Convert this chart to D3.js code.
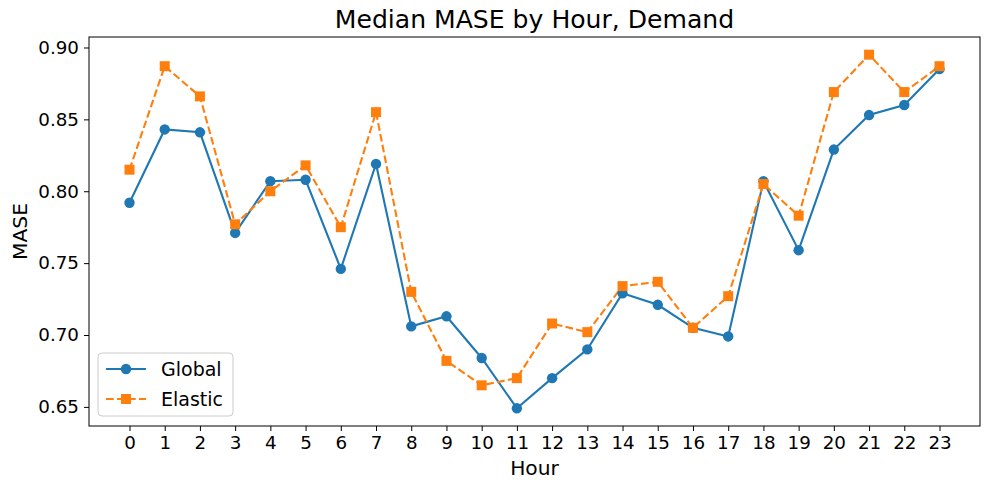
<!DOCTYPE html>
<html>
<head>
<meta charset="utf-8">
<script src="https://cdn.jsdelivr.net/npm/d3@7"></script>
<style>
  html, body { margin: 0; padding: 0; background: #fff; }
  text { font-family: "DejaVu Sans", sans-serif; fill: #000; }
</style>
</head>
<body>
<svg id="chart" width="989" height="490"></svg>
<script>
const hours = [0,1,2,3,4,5,6,7,8,9,10,11,12,13,14,15,16,17,18,19,20,21,22,23];
const globalValues = [0.792,0.843,0.841,0.771,0.807,0.808,0.746,0.819,0.706,0.713,0.684,0.649,0.670,0.690,0.729,0.721,0.705,0.699,0.807,0.759,0.829,0.853,0.860,0.885];
const elasticValues = [0.815,0.887,0.866,0.777,0.800,0.818,0.775,0.855,0.730,0.682,0.665,0.670,0.708,0.702,0.734,0.737,0.705,0.727,0.805,0.783,0.869,0.895,0.869,0.887];
const yTicks = [0.65,0.70,0.75,0.80,0.85,0.90];
const seriesNames = ["Global","Elastic"];
const colors = ["#1f77b4","#ff7f0e"];

const svg = d3.select("#chart");
const mLeft = 89, mRight = 980, mTop = 37, mBottom = 426;

const allVals = globalValues.concat(elasticValues);
const ymin = d3.min(allVals), ymax = d3.max(allVals);
const ypad = (ymax - ymin) * 0.05;
const y = d3.scaleLinear().domain([ymin - ypad, ymax + ypad]).range([mBottom, mTop]);
const xpad = (23 - 0) * 0.05;
const x = d3.scaleLinear().domain([0 - xpad, 23 + xpad]).range([mLeft, mRight]);

// Axes
const xAxis = d3.axisBottom(x).tickValues(hours).tickFormat(d3.format("d")).tickSize(5).tickPadding(5);
const yAxis = d3.axisLeft(y).tickValues(yTicks).tickFormat(d3.format(".2f")).tickSize(5).tickPadding(5);

const gx = svg.append("g").attr("transform", `translate(0,${mBottom})`).call(xAxis);
const gy = svg.append("g").attr("transform", `translate(${mLeft},0)`).call(yAxis);
[gx, gy].forEach(g => {
  g.select(".domain").remove();
  g.selectAll(".tick line").attr("stroke", "#000").attr("stroke-width", 1);
  g.selectAll(".tick text").attr("font-size", 18.3).attr("font-family", "DejaVu Sans").attr("fill", "#000");
});

// Frame
svg.append("rect").attr("x", mLeft).attr("y", mTop).attr("width", mRight - mLeft).attr("height", mBottom - mTop)
  .attr("fill", "none").attr("stroke", "#000").attr("stroke-width", 1);

// Lines
const series = [globalValues, elasticValues];
series.forEach((vals, i) => {
  const line = d3.line().x((d, j) => x(hours[j])).y(d => y(d));
  svg.append("path").datum(vals).attr("d", line)
    .attr("fill", "none").attr("stroke", colors[i]).attr("stroke-width", 2.1)
    .attr("stroke-dasharray", i === 1 ? "7.7,3.3" : null);
});
// markers
svg.append("g").selectAll("circle").data(globalValues).join("circle")
  .attr("cx", (d, j) => x(hours[j])).attr("cy", d => y(d)).attr("r", 5.2).attr("fill", colors[0]);
svg.append("g").selectAll("rect").data(elasticValues).join("rect")
  .attr("x", (d, j) => x(hours[j]) - 5).attr("y", d => y(d) - 5).attr("width", 10).attr("height", 10).attr("fill", colors[1]);

// Title & labels
svg.append("text").attr("x", (mLeft + mRight) / 2).attr("y", 28).attr("text-anchor", "middle")
  .attr("font-size", 25.1).text("Median MASE by Hour, Demand");
svg.append("text").attr("x", (mLeft + mRight) / 2).attr("y", 475).attr("text-anchor", "middle")
  .attr("font-size", 20.2).text("Hour");
svg.append("text").attr("transform", `translate(27,${(mTop + mBottom) / 2}) rotate(-90)`).attr("text-anchor", "middle")
  .attr("font-size", 20.2).text("MASE");

// Legend
const lg = svg.append("g").attr("transform", "translate(98,353)");
lg.append("rect").attr("width", 135).attr("height", 63).attr("rx", 4)
  .attr("fill", "#fff").attr("fill-opacity", 0.8).attr("stroke", "#cccccc").attr("stroke-width", 1);
seriesNames.forEach((name, i) => {
  const yy = 16 + i * 30;
  lg.append("line").attr("x1", 8).attr("x2", 48).attr("y1", yy).attr("y2", yy)
    .attr("stroke", colors[i]).attr("stroke-width", 2.1)
    .attr("stroke-dasharray", i === 1 ? "7.7,3.3" : null);
  if (i === 0) lg.append("circle").attr("cx", 28).attr("cy", yy).attr("r", 5.2).attr("fill", colors[i]);
  else lg.append("rect").attr("x", 23).attr("y", yy - 5).attr("width", 10).attr("height", 10).attr("fill", colors[i]);
  lg.append("text").attr("x", 63).attr("y", yy + 6.8).attr("font-size", 19).text(name);
});
</script>
</body>
</html>
